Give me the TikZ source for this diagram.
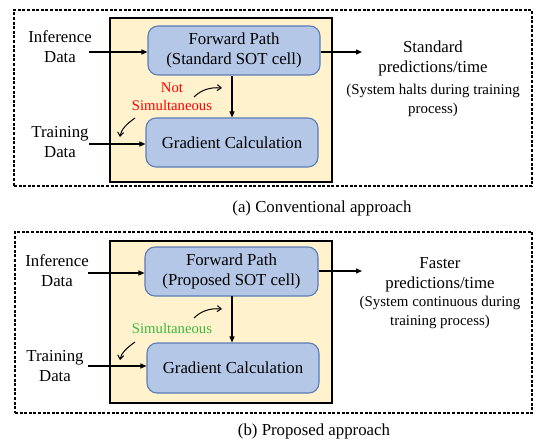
\documentclass[tikz,border=0pt]{standalone}
\usepackage{fontspec}
\setmainfont{Liberation Serif}
\usetikzlibrary{arrows.meta}
\definecolor{ybox}{HTML}{FFF2CC}
\definecolor{bfill}{HTML}{B4C7E7}
\definecolor{bdraw}{HTML}{5B7DB5}
\definecolor{gtxt}{HTML}{3CB844}
\begin{document}
\begin{tikzpicture}[x=1pt,y=-1pt,
  dashbox/.style={draw=black, line width=1.3pt, dash pattern=on 3pt off 1.6pt, inner sep=0pt},
  ylbox/.style={draw=black, fill=ybox, line width=1.4pt, inner sep=0pt},
  blbox/.style={draw=bdraw, fill=bfill, line width=1.1pt, rounded corners=10pt, inner sep=0pt, align=center, font=\fontsize{16.8}{20}\selectfont},
  lbl/.style={align=center, inner sep=0pt, font=\fontsize{16.8}{20}\selectfont},
  sml/.style={align=center, inner sep=0pt, font=\fontsize{14.9}{19}\selectfont},
  note/.style={align=center, inner sep=0pt, font=\fontsize{14.7}{18}\selectfont},
  arr/.style={line width=1.2pt, -{Triangle[length=6pt,width=5pt]}},
  carr/.style={line width=1pt, -{Straight Barb[length=4pt,width=6pt]}}
]
\useasboundingbox (0,0) rectangle (537,441);

% ---------------- (a) ----------------
\node[dashbox, minimum width=518pt, minimum height=176pt] (frameA) at (273,98) {};
\node[ylbox, minimum width=222pt, minimum height=164pt] (yA) at (221,100) {};
\node[blbox, minimum width=172pt, minimum height=49pt] (fpA) at (234,50.5) {Forward Path\\(Standard SOT cell)};
\node[blbox, minimum width=172pt, minimum height=49pt] (gcA) at (232,142.5) {Gradient Calculation};
\node[lbl] (infA) at (60,47) {Inference\\Data};
\node[lbl] (trA) at (60,142) {Training\\Data};
\coordinate (infAs) at (89,52);
\coordinate (trAs) at (89,144);
\draw[arr] (infAs) -- (infAs -| fpA.west);
\draw[arr] (trAs) -- (trAs -| gcA.west);
\draw[arr] (gcA.north |- fpA.south) -- (gcA.north);
\coordinate (outA) at (362,52);
\draw[arr] (outA -| fpA.east) -- (outA);
\node[lbl] (resA) at (433,58) {Standard\\predictions/time};
\node[sml] (noteA) at (433,100) {(System halts during training\\process)};
\node[note, text=red] (simA) at (172,97) {Not\\Simultaneous};
\coordinate (c1sA) at (194,97);
\coordinate (c1eA) at (222,88);
\draw[carr] (c1sA) .. controls (201,90) and (210,87) .. (c1eA);
\coordinate (c2sA) at (135,118);
\coordinate (c2eA) at (120,137);
\draw[carr] (c2sA) .. controls (128,123) and (121,129) .. (c2eA);
\node[lbl] (capA) at (322,208) {(a) Conventional approach};

% ---------------- (b) ----------------
\node[dashbox, minimum width=517pt, minimum height=181pt] (frameB) at (273.5,322.5) {};
\node[ylbox, minimum width=222pt, minimum height=162pt] (yB) at (221,322) {};
\node[blbox, minimum width=173pt, minimum height=49pt] (fpB) at (231.5,271.5) {Forward Path\\(Proposed SOT cell)};
\node[blbox, minimum width=172pt, minimum height=50pt] (gcB) at (233,368) {Gradient Calculation};
\node[lbl] (infB) at (57,271) {Inference\\Data};
\node[lbl] (trB) at (55,366) {Training\\Data};
\coordinate (infBs) at (88,273);
\coordinate (trBs) at (88,366);
\draw[arr] (infBs) -- (infBs -| fpB.west);
\draw[arr] (trBs) -- (trBs -| gcB.west);
\coordinate (vB) at (232,296);
\draw[arr] (vB) -- (vB |- gcB.north);
\coordinate (outB) at (362,271);
\draw[arr] (outB -| fpB.east) -- (outB);
\node[lbl] (resB) at (440,275) {Faster\\predictions/time};
\node[sml] (noteB) at (440,312) {(System continuous during\\training process)};
\node[note, text=gtxt] (simB) at (172,328) {Simultaneous};
\coordinate (c1sB) at (194,318);
\coordinate (c1eB) at (222,309);
\draw[carr] (c1sB) .. controls (201,311) and (210,308) .. (c1eB);
\coordinate (c2sB) at (135,342);
\coordinate (c2eB) at (120,360);
\draw[carr] (c2sB) .. controls (128,347) and (121,353) .. (c2eB);
\node[lbl] (capB) at (314,431) {(b) Proposed approach};
\end{tikzpicture}
\end{document}
